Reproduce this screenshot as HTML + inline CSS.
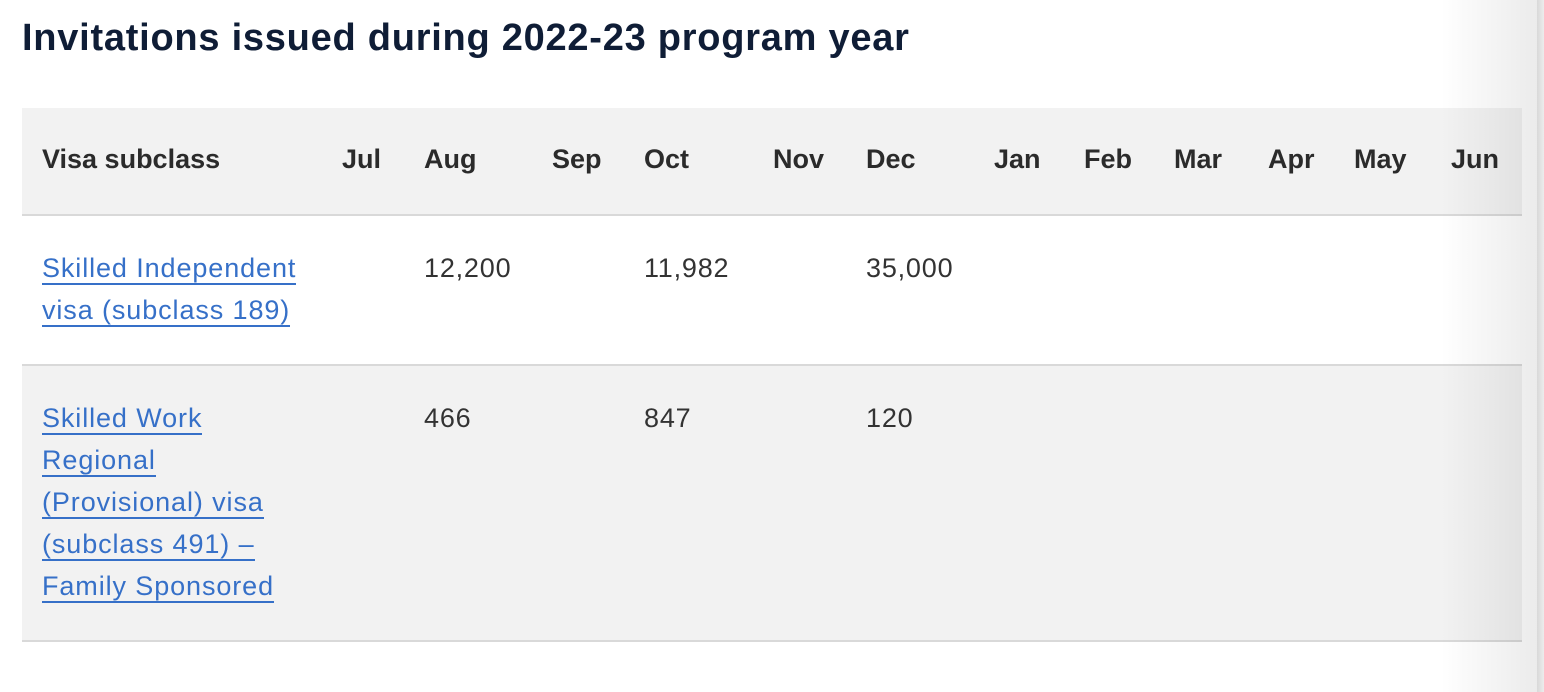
<!DOCTYPE html>
<html><head><style>
body{margin:0;width:1544px;height:692px;background:#fff;position:relative;overflow:hidden;font-family:"Liberation Sans",sans-serif;}
.a{position:absolute;white-space:nowrap;}
h1{position:absolute;left:22px;top:17px;margin:0;font-size:38px;font-weight:bold;color:#0f1d36;letter-spacing:0.75px;}
.h{font-weight:bold;font-size:27px;color:#2b2b2b;top:144px;}
.v{font-size:27px;color:#333;letter-spacing:0.8px;}
.l{font-size:27px;color:#3670c8;left:42px;line-height:42px;letter-spacing:0.9px;}
.l span{border-bottom:2px solid #3670c8;}
</style></head><body>
<h1>Invitations issued during 2022-23 program year</h1>
<div class="a" style="left:22px;top:108px;width:1500px;height:106px;background:#f2f2f2;border-bottom:2px solid #d9d9d9"></div>
<div class="a" style="left:22px;top:364px;width:1500px;height:2px;background:#d9d9d9"></div>
<div class="a" style="left:22px;top:366px;width:1500px;height:274px;background:#f2f2f2;border-bottom:2px solid #d9d9d9"></div>
<div class="a h" style="left:42px">Visa subclass</div>
<div class="a h" style="left:342px">Jul</div>
<div class="a h" style="left:424px">Aug</div>
<div class="a h" style="left:552px">Sep</div>
<div class="a h" style="left:644px">Oct</div>
<div class="a h" style="left:773px">Nov</div>
<div class="a h" style="left:866px">Dec</div>
<div class="a h" style="left:994px">Jan</div>
<div class="a h" style="left:1084px">Feb</div>
<div class="a h" style="left:1174px">Mar</div>
<div class="a h" style="left:1268px">Apr</div>
<div class="a h" style="left:1354px">May</div>
<div class="a h" style="left:1451px">Jun</div>
<div class="a l" style="top:247px"><span>Skilled Independent</span><br><span>visa (subclass 189)</span></div>
<div class="a v" style="left:424px;top:253px">12,200</div>
<div class="a v" style="left:644px;top:253px">11,982</div>
<div class="a v" style="left:866px;top:253px">35,000</div>
<div class="a l" style="top:397px"><span>Skilled Work</span><br><span>Regional</span><br><span>(Provisional) visa</span><br><span>(subclass 491) –</span><br><span>Family Sponsored</span></div>
<div class="a v" style="left:424px;top:403px">466</div>
<div class="a v" style="left:644px;top:403px">847</div>
<div class="a v" style="left:866px;top:403px">120</div>
<div class="a" style="left:1440px;top:0;width:97px;height:692px;background:linear-gradient(to right,rgba(0,0,0,0),rgba(0,0,0,0.08))"></div>
<div class="a" style="left:1537px;top:0;width:7px;height:692px;background:linear-gradient(to right,#d8d8d8,#ececec)"></div>
</body></html>
